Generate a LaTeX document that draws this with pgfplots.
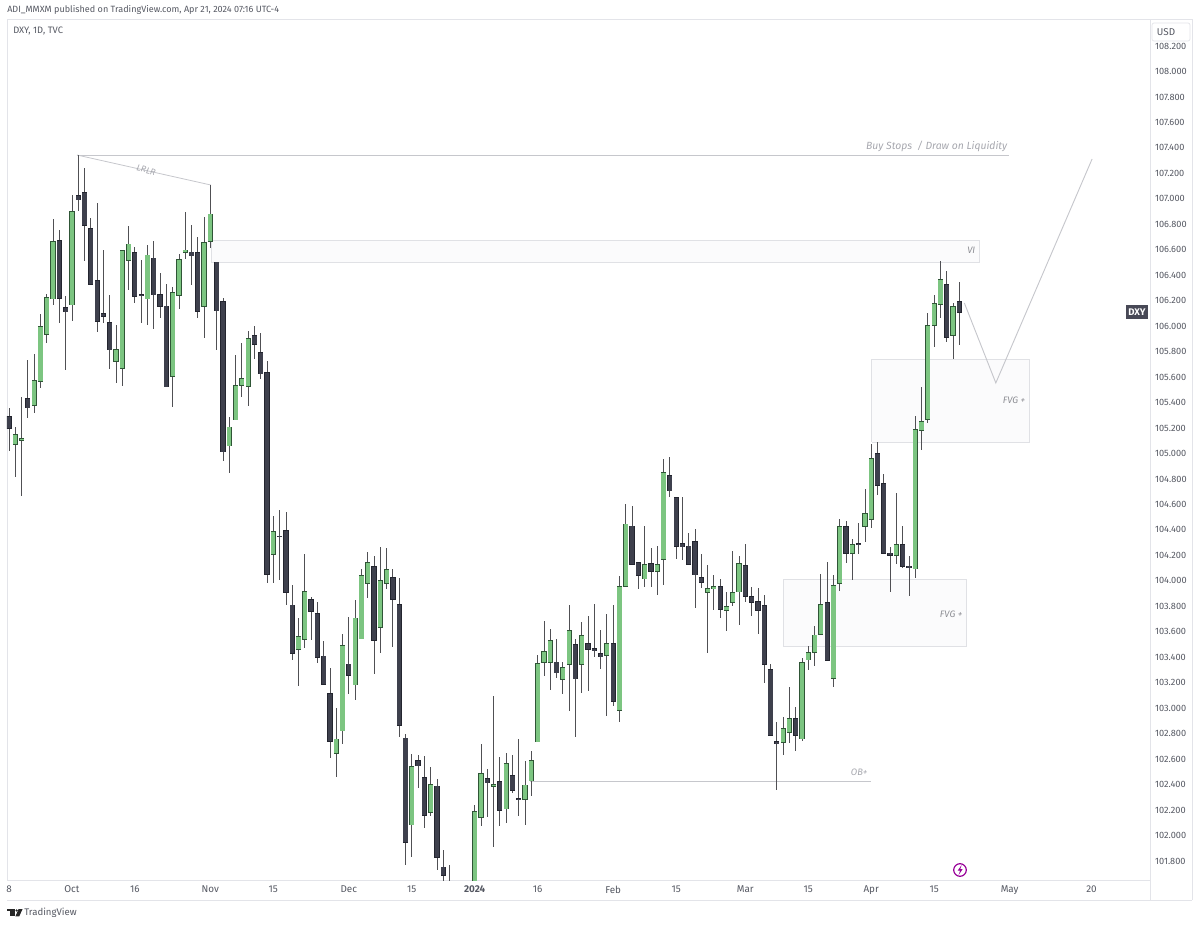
\documentclass[border=0pt]{standalone}
\usepackage{fontspec}
\setmainfont{Fira Sans}
\usepackage{pgfplots}
\usepackage{pgfplotstable}
\pgfplotsset{compat=1.18}
\definecolor{cgreen}{HTML}{7CC581}
\definecolor{cgreenedge}{HTML}{2F5536}
\definecolor{cdark}{HTML}{3E404D}
\definecolor{cedge}{HTML}{23252F}
\definecolor{cwick}{HTML}{505054}
\definecolor{frame}{HTML}{E3E4E9}
\definecolor{anno}{HTML}{C6C7CC}
\definecolor{annotext}{HTML}{A6A7AE}
\definecolor{boxfill}{HTML}{FBFBFC}
\definecolor{boxedge}{HTML}{E0E1E5}
\definecolor{axtext}{HTML}{555862}
\pgfplotstableread{
x low bot top high
1 104.817 105.074 105.150 105.205
2 104.665 105.103 105.118 105.440
4 105.315 105.378 105.574 105.778
5 105.516 105.564 105.995 106.095
6 105.865 105.938 106.223 106.252
7 106.166 106.215 106.663 106.838
10 106.043 106.168 106.899 107.030
17 105.556 105.723 105.817 106.009
18 105.532 105.666 106.595 106.598
19 106.283 106.516 106.645 106.786
22 106.009 106.215 106.558 106.634
26 105.362 105.608 106.265 106.310
27 106.137 106.242 106.524 106.566
28 106.527 106.577 106.598 106.894
31 105.909 106.155 106.658 106.854
32 106.616 106.666 106.880 107.108
35 104.844 105.061 105.208 105.289
36 105.265 105.265 105.535 105.770
37 105.446 105.535 105.590 105.870
38 105.372 105.527 105.904 105.959
42 103.980 104.206 104.386 104.509
46 103.177 103.460 103.559 103.706
47 103.475 103.541 103.915 104.208
52 102.462 102.645 102.758 102.999
53 102.719 102.823 103.491 103.580
55 103.062 103.185 103.708 103.850
56 103.546 103.546 104.043 104.090
57 103.868 103.983 104.145 104.227
59 103.431 103.632 104.004 104.263
60 103.933 103.980 104.088 104.255
64 101.833 102.084 102.543 102.640
67 102.153 102.181 102.401 102.535
74 101.400 101.500 102.189 102.242
75 102.074 102.142 102.488 102.718
77 101.906 102.386 102.401 103.092
79 102.100 102.210 102.564 102.650
82 102.084 102.286 102.396 102.582
83 102.310 102.430 102.590 102.666
84 102.736 102.736 103.352 103.417
85 103.255 103.357 103.443 103.684
86 103.142 103.362 103.530 103.621
88 103.111 103.228 103.320 103.365
89 102.980 103.344 103.611 103.812
91 103.116 103.344 103.571 103.679
95 102.940 103.414 103.506 103.739
97 102.893 102.982 103.956 104.037
98 103.956 103.956 104.448 104.600
101 103.954 104.016 104.126 104.430
103 103.888 104.074 104.126 104.270
104 103.964 104.168 104.852 104.956
111 103.431 103.910 103.939 104.122
112 103.768 103.939 103.954 104.049
114 103.609 103.771 103.800 103.915
115 103.802 103.834 103.910 104.237
116 103.653 103.915 104.138 104.198
123 102.630 102.734 102.839 102.928
124 102.724 102.810 102.918 103.169
126 102.740 102.760 103.357 103.394
127 103.300 103.381 103.436 103.491
128 103.331 103.436 103.575 103.646
129 103.580 103.580 103.816 104.054
131 103.169 103.235 103.962 104.046
132 103.918 103.983 104.426 104.489
134 104.010 104.214 104.287 104.332
136 104.303 104.426 104.530 104.719
137 104.418 104.483 104.962 105.072
141 104.133 104.201 104.284 104.688
144 104.020 104.093 105.185 105.295
145 105.028 105.182 105.253 105.525
146 105.237 105.268 106.007 106.106
147 105.839 106.007 106.180 106.245
148 106.067 106.172 106.368 106.515
150 105.740 105.926 106.151 106.180
}\greencandles
\pgfplotstableread{
x low bot top high
0 105.022 105.197 105.289 105.354
3 105.276 105.359 105.433 105.734
8 106.022 106.218 106.674 106.752
9 105.653 106.113 106.147 106.236
11 106.906 106.993 107.024 107.346
12 106.511 106.794 107.051 107.239
13 106.323 106.328 106.765 106.852
14 105.954 106.040 106.357 106.969
15 106.022 106.074 106.100 106.598
16 105.660 105.815 106.030 106.244
20 106.184 106.236 106.577 106.624
21 106.022 106.241 106.249 106.519
23 105.975 106.247 106.535 106.668
24 106.066 106.155 106.250 106.414
25 105.519 105.524 106.158 106.328
29 106.320 106.553 106.582 106.794
30 106.061 106.113 106.577 106.697
33 105.810 106.121 106.503 106.503
34 104.943 105.014 106.194 106.218
39 105.739 105.857 105.927 106.003
40 105.585 105.626 105.794 105.948
41 103.980 104.049 105.637 105.726
43 104.007 104.347 104.352 104.556
44 103.810 103.907 104.392 104.543
45 103.378 103.431 103.810 103.967
48 103.535 103.758 103.850 103.876
49 103.357 103.397 103.745 103.836
50 103.187 103.190 103.410 103.528
51 102.606 102.737 103.117 103.318
54 103.114 103.258 103.347 103.716
58 103.268 103.535 104.111 104.198
61 103.483 103.857 104.025 104.090
62 102.776 102.863 103.816 104.025
63 101.768 101.948 102.765 102.795
65 102.370 102.548 102.587 102.629
66 102.058 102.158 102.459 102.624
68 101.728 101.831 102.388 102.443
69 101.600 101.689 101.752 101.885
70 101.400 101.500 101.600 101.765
76 102.142 102.414 102.448 102.519
78 102.074 102.200 102.425 102.613
80 102.336 102.354 102.472 102.632
81 102.153 102.281 102.289 102.757
87 103.234 103.278 103.362 103.540
90 102.770 103.231 103.501 103.540
92 103.137 103.464 103.506 103.726
93 103.399 103.456 103.467 103.817
94 103.307 103.404 103.430 103.611
96 103.014 103.058 103.506 103.807
99 104.132 104.132 104.430 104.585
100 103.935 104.045 104.145 104.150
102 103.954 104.074 104.137 104.257
105 104.655 104.708 104.828 104.975
106 104.174 104.271 104.655 104.660
107 104.164 104.268 104.295 104.660
108 104.132 104.132 104.274 104.373
109 103.789 104.046 104.310 104.405
110 103.941 103.988 104.028 104.208
113 103.706 103.776 103.954 104.012
117 103.836 103.881 104.122 104.289
118 103.724 103.831 103.878 103.954
119 103.580 103.766 103.839 103.941
120 103.200 103.344 103.805 103.889
121 102.787 102.787 103.305 103.347
122 102.355 102.724 102.737 102.891
125 102.666 102.787 102.918 103.012
130 103.376 103.376 103.831 104.146
133 104.143 104.219 104.426 104.470
135 104.211 104.287 104.292 104.452
138 104.677 104.750 105.002 105.093
139 104.219 104.219 104.766 104.842
140 103.915 104.203 104.219 104.263
142 104.099 104.117 104.287 104.434
143 103.881 104.106 104.117 104.195
149 105.873 105.915 106.324 106.434
151 105.850 106.109 106.193 106.347
}\darkcandles
\begin{document}
\begin{tikzpicture}[x=0.75pt,y=0.75pt]
\path[use as bounding box] (0,0) rectangle (1200,926);
\draw[frame,line width=0.6pt] (7,907) -- (1192,907) -- (1192,26);
\draw[frame,line width=0.6pt] (1192,26) -- (7,26);
\begin{axis}[
  at={(5.25pt,34.5pt)},anchor=south west,
  width=857.25pt,height=645.75pt,scale only axis,
  xmin=-0.318,xmax=181.3,ymin=101.6506,ymax=108.412,
  axis line style={frame,line width=0.6pt},
  clip=true,
  major tick length=0pt,
  yticklabel pos=right,
  ytick={101.8,102,102.2,102.4,102.6,102.8,103,103.2,103.4,103.6,103.8,104,104.2,104.4,104.6,104.8,105,105.2,105.4,105.6,105.8,106,106.2,106.4,106.6,106.8,107,107.2,107.4,107.6,107.8,108,108.2},
  yticklabel style={/pgf/number format/fixed,/pgf/number format/fixed zerofill,/pgf/number format/precision=3,/pgf/number format/1000 sep={},/pgf/number format/assume math mode=true,font=\fontsize{6.9pt}{9pt}\selectfont,text=axtext,anchor=west,xshift=0.3pt},
  xtick={0,10,20,32,42,54,64,74,84,96,106,117,127,137,147,159,172},
  xticklabels={8,Oct,16,Nov,15,Dec,15,\textbf{2024},16,Feb,15,Mar,15,Apr,15,May,20},
  xticklabel style={font=\fontsize{7.4pt}{9pt}\selectfont,text=axtext,yshift=-0.8pt},
  every axis plot/.append style={forget plot},
]
% annotation boxes
\addplot[fill=boxfill,draw=boxedge,line width=0.7pt] coordinates {(32.1,106.504) (154.2,106.504) (154.2,106.669) (32.1,106.669) (32.1,106.504)};
\addplot[fill=boxfill,draw=boxedge,line width=0.7pt] coordinates {(137.1,105.090) (162.1,105.090) (162.1,105.742) (137.1,105.742) (137.1,105.090)};
\addplot[fill=boxfill,draw=boxedge,line width=0.7pt] coordinates {(123,103.488) (152.2,103.488) (152.2,104.007) (123,104.007) (123,103.488)};
% annotation lines
\addplot[anno,line width=0.6pt] coordinates {(10.8,107.344) (158.9,107.344)};
\addplot[anno,line width=0.6pt] coordinates {(10.8,107.344) (32.1,107.108)};
\addplot[anno,line width=0.6pt] coordinates {(82.8,102.428) (137,102.428)};
\addplot[anno,line width=0.7pt] coordinates {(151.8,106.182) (156.8,105.554) (172.1,107.313)};
% candles: wicks, outlines, fills
\addplot[draw=none,mark=none,error bars/.cd,y dir=both,y explicit,error mark=none,error bar style={draw=cwick,line width=0.62pt}] table[x=x,y=top,y error plus expr=\thisrow{high}-\thisrow{top},y error minus expr=\thisrow{top}-\thisrow{low}] {\greencandles};
\addplot[draw=none,mark=none,error bars/.cd,y dir=both,y explicit,error mark=none,error bar style={draw=cwick,line width=0.62pt}] table[x=x,y=top,y error plus expr=\thisrow{high}-\thisrow{top},y error minus expr=\thisrow{top}-\thisrow{low}] {\darkcandles};
\addplot[draw=none,mark=none,error bars/.cd,y dir=both,y explicit,error mark=none,error bar style={draw=cgreenedge,line width=3.9pt}] table[x=x,y expr={(\thisrow{top}+\thisrow{bot})/2},y error expr={(\thisrow{top}-\thisrow{bot})/2+0.004}] {\greencandles};
\addplot[draw=none,mark=none,error bars/.cd,y dir=both,y explicit,error mark=none,error bar style={draw=cgreen,line width=3.1pt}] table[x=x,y expr={(\thisrow{top}+\thisrow{bot})/2},y error expr={max((\thisrow{top}-\thisrow{bot})/2-0.002,0.0005)}] {\greencandles};
\addplot[draw=none,mark=none,error bars/.cd,y dir=both,y explicit,error mark=none,error bar style={draw=cedge,line width=3.9pt}] table[x=x,y expr={(\thisrow{top}+\thisrow{bot})/2},y error expr={(\thisrow{top}-\thisrow{bot})/2+0.004}] {\darkcandles};
\addplot[draw=none,mark=none,error bars/.cd,y dir=both,y explicit,error mark=none,error bar style={draw=cdark,line width=3.1pt}] table[x=x,y expr={(\thisrow{top}+\thisrow{bot})/2},y error expr={max((\thisrow{top}-\thisrow{bot})/2-0.002,0.0005)}] {\darkcandles};
% annotation labels
\node[text=annotext,font=\fontsize{7.8pt}{9pt}\selectfont\itshape] at (axis cs:147.4,107.415) {Buy Stops\ \ / Draw on Liquidity};
\node[text=annotext,font=\fontsize{6.6pt}{8pt}\selectfont\itshape,rotate=-13] at (axis cs:21.8,107.225) {LRLR};
\node[text=annotext!85!black,font=\fontsize{7pt}{8pt}\selectfont\itshape] at (axis cs:152.9,106.595) {VI};
\node[text=annotext!85!black,font=\fontsize{7pt}{8pt}\selectfont\itshape] at (axis cs:159.7,105.415) {FVG +};
\node[text=annotext!85!black,font=\fontsize{7pt}{8pt}\selectfont\itshape] at (axis cs:149.7,103.74) {FVG +};
\node[text=annotext,font=\fontsize{7pt}{8pt}\selectfont\itshape] at (axis cs:135.1,102.50) {OB+};
\end{axis}
\draw[frame,line width=0.6pt] (1150,26) -- (1150,907);
% header
\node[anchor=west,inner sep=0pt,text=axtext,font=\fontsize{6.8pt}{9pt}\selectfont] at (7,916) {ADI\_MMXM published on TradingView.com, Apr 21, 2024 07:16 UTC-4};
\node[anchor=west,inner sep=0pt,text=axtext,font=\fontsize{7pt}{9pt}\selectfont] at (13,895) {DXY, 1D, TVC};
% USD box
\fill[white] (1151,885) rectangle (1191,905);
\draw[frame,line width=0.5pt,rounded corners=1.5pt] (1152,885) rectangle (1190,903);
\node[inner sep=0pt,text=axtext,font=\fontsize{7.4pt}{9pt}\selectfont] at (1166,894) {USD};
% symbol tag
\fill[cdark!95!white] (1126,607) rectangle (1148,621);
\node[inner sep=0pt,text=white,font=\fontsize{7.2pt}{9pt}\selectfont\bfseries] at (1137,614) {DXY};
% lightning icon
\draw[black!15!violet!70!magenta,line width=0.9pt] (960,56) circle (6.3);
\fill[black!15!violet!70!magenta] (961.6,61) -- (957.6,55.3) -- (960,55.3) -- (958.6,51) -- (962.6,56.8) -- (960.2,56.8) -- cycle;
% TradingView logo
\fill[black!85] (7,17) rectangle (14.6,14.6);
\fill[black!85] (10,14.8) rectangle (14.6,9.6);
\fill[black!85] (16.6,15.6) circle (1.25);
\fill[black!85] (18.6,17) -- (22.6,17) -- (19.2,9.6) -- (15.4,9.6) -- cycle;
\node[anchor=west,inner sep=0pt,text=axtext,font=\fontsize{7.2pt}{10pt}\selectfont] at (24,13) {TradingView};
\end{tikzpicture}
\end{document}
